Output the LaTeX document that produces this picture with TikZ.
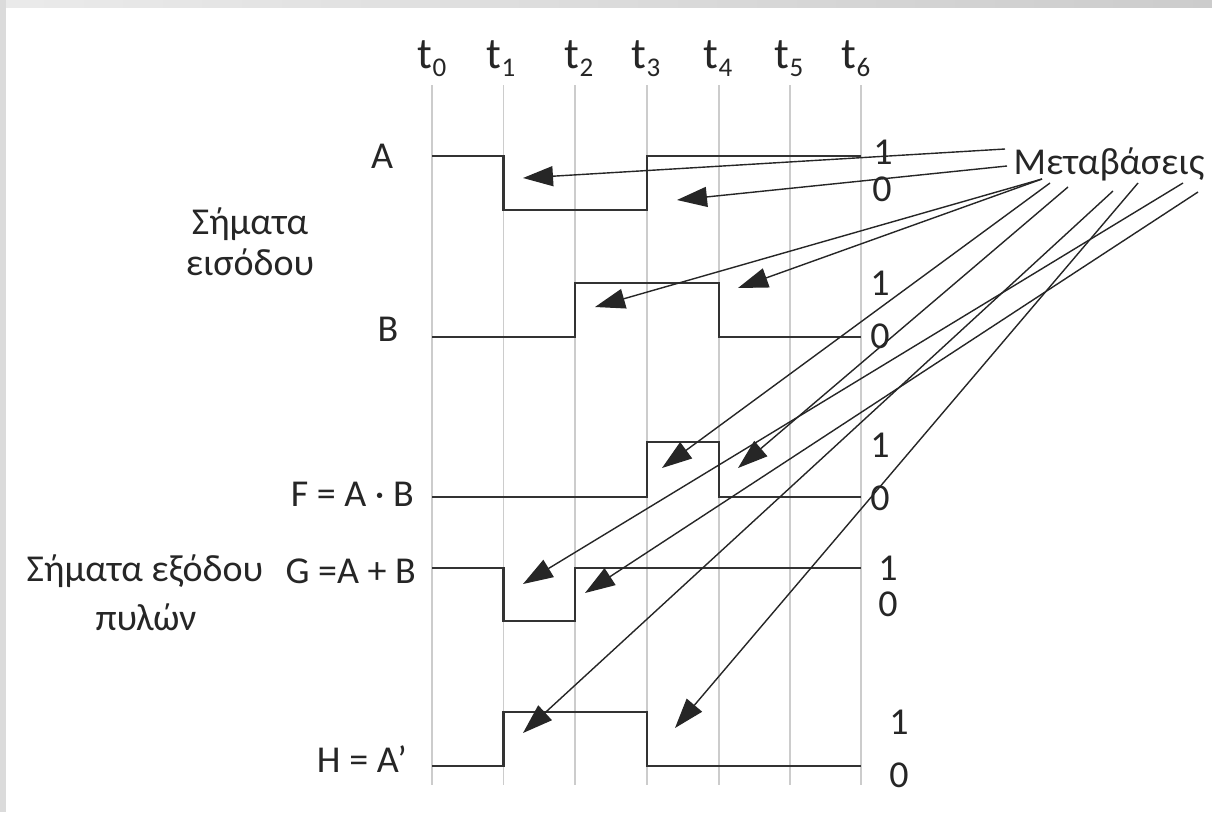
\documentclass[tikz,border=0pt]{standalone}
\usepackage{fontspec}
\setmainfont{Carlito}
\usetikzlibrary{arrows.meta}
\begin{document}
\begin{tikzpicture}[x=1pt,y=-1pt,
  gridline/.style={draw=black!20, line width=1.6pt},
  wave/.style={draw=black!80, line width=2.4pt, line join=miter},
  pointer/.style={draw=black!85, line width=1.4pt, -{Triangle[length=30pt,width=20pt]}},
  lbl/.style={font=\fontsize{38}{44}\selectfont, inner sep=0pt, text=black!85},
  lvl/.style={font=\fontsize{38}{44}\selectfont, inner sep=0pt, text=black!85},
  tick/.style={font=\fontsize{44}{50}\selectfont, inner sep=0pt, text=black!85, anchor=base}]

% canvas and frame strips
\useasboundingbox (0,0) rectangle (1212,812);
\fill[white] (0,0) rectangle (1212,812);
\shade[left color=black!8, right color=black!20] (0,0) rectangle (1212,7);
\fill[black!14] (0,0) rectangle (6,812);

% time grid and labels
\newcommand{\tlabel}[1]{t\raisebox{-0.2em}{\fontsize{27}{28}\selectfont #1}}
\foreach \n/\x/\lx in {0/432/432, 1/503.5/501, 2/575/579, 3/647/646, 4/719/718, 5/790/789, 6/861/856}{
  \draw[gridline] (\x,85) -- (\x,785);
  \node[tick] (t\n) at (\lx,68) {\tlabel{\n}};
}

% waveforms
\draw[wave] (432,156) -- (503.5,156) -- (503.5,210) -- (647,210) -- (647,156) -- (861,156);
\draw[wave] (432,337) -- (575,337) -- (575,283) -- (719,283) -- (719,337) -- (861,337);
\draw[wave] (432,497) -- (647,497) -- (647,442) -- (719,442) -- (719,497) -- (861,497);
\draw[wave] (432,568) -- (503.5,568) -- (503.5,621) -- (575,621) -- (575,568) -- (861,568);
\draw[wave] (432,766) -- (503.5,766) -- (503.5,712) -- (647,712) -- (647,766) -- (861,766);

% signal names
\node[lbl] (lA) at (382,156) {A};
\node[lbl] (lB) at (388,329) {B};
\node[lbl, anchor=east] (lF) at (414,494) {F = A · B};
\node[lbl, anchor=east] (lG) at (416,571) {G =A + B};
\node[lbl, anchor=east] (lH) at (407,759) {H = A’};
\node[lbl, align=center] (lin) at (250,242) {Σήματα\\[-3pt]εισόδου};
\node[lbl] (lout1) at (145,571) {Σήματα εξόδου};
\node[lbl] (lout2) at (146,617) {πυλών};

% logic levels
\node[lvl] (a1) at (883,152) {1};
\node[lvl] (a0) at (882,189) {0};
\node[lvl] (b1) at (880,283) {1};
\node[lvl] (b0) at (880,336) {0};
\node[lvl] (f1) at (880,445) {1};
\node[lvl] (f0) at (880,498) {0};
\node[lvl] (g1) at (888,568) {1};
\node[lvl] (g0) at (888,604) {0};
\node[lvl] (h1) at (899,722) {1};
\node[lvl] (h0) at (899,775) {0};

% transitions label and pointer ends
\node[lbl] (trans) at (1109,164) {Μεταβάσεις};

\coordinate (s1) at (1005,149);
\coordinate (s2) at (1007,166);
\coordinate (s3) at (1042,179);
\coordinate (s4) at (1050,183);
\coordinate (s5) at (1068,187);
\coordinate (s6) at (1113,191);
\coordinate (s7) at (1138,183);
\coordinate (s8) at (1183,183);
\coordinate (s9) at (1198,192);

\coordinate (eA1) at (523,178);
\coordinate (eA3) at (677,200);
\coordinate (eB2) at (595,307);
\coordinate (eB4) at (738,288);
\coordinate (eF3) at (662,468);
\coordinate (eF4) at (738,468);
\coordinate (eG1) at (523,584);
\coordinate (eG2) at (585,593);
\coordinate (eH1) at (523,733);
\coordinate (eH3) at (675,728);

\draw[pointer] (s1) -- (eA1);
\draw[pointer] (s2) -- (eA3);
\draw[pointer] (s3) -- (eB2);
\draw[pointer] (s3) -- (eB4);
\draw[pointer] (s4) -- (eF3);
\draw[pointer] (s5) -- (eF4);
\draw[pointer] (s6) -- (eH1);
\draw[pointer] (s7) -- (eH3);
\draw[pointer] (s8) -- (eG1);
\draw[pointer] (s9) -- (eG2);
\end{tikzpicture}
\end{document}
